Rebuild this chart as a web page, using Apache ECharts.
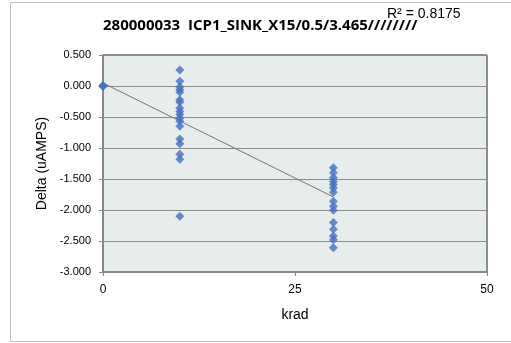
<!DOCTYPE html>
<html>
<head>
<meta charset="utf-8">
<script src="https://cdn.jsdelivr.net/npm/echarts@6/dist/echarts.min.js"></script>
<style>html,body{margin:0;padding:0;background:#fff}#c{width:511px;height:343px}</style>
</head>
<body>
<div id="c"></div>
<script>
var titleText = '280000033  ICP1_SINK_X15/0.5/3.465////////';
var r2Text = 'R\u00B2 = 0.8175';
var xAxisName = 'krad';
var yAxisName = 'Delta (uAMPS)';
var krad0 = [0, 0, 0, 0, 0];
var delta0 = [0, 0, 0, 0, 0];
var krad10 = [10, 10, 10, 10, 10, 10, 10, 10, 10, 10, 10, 10, 10, 10, 10, 10, 10, 10];
var delta10 = [0.258, 0.075, -0.016, -0.06, -0.10, -0.22, -0.26, -0.355, -0.41, -0.46, -0.52, -0.57, -0.65, -0.855, -0.93, -1.10, -1.18, -2.10];
var krad30 = [30, 30, 30, 30, 30, 30, 30, 30, 30, 30, 30, 30, 30, 30, 30];
var delta30 = [-1.32, -1.40, -1.48, -1.54, -1.59, -1.645, -1.715, -1.86, -1.94, -2.005, -2.20, -2.31, -2.42, -2.48, -2.61];
var trendX = [0, 30];
var trendY = [0.048, -1.79];

function pairs(xs, ys) { return xs.map(function (x, i) { return [x, ys[i]]; }); }
var points = pairs(krad0, delta0).concat(pairs(krad10, delta10), pairs(krad30, delta30));
var trend = pairs(trendX, trendY);

var font = 'Liberation Sans';
var chart = echarts.init(document.getElementById('c'));
chart.setOption({
  animation: false,
  backgroundColor: '#fff',
  graphic: [
    { type: 'rect', shape: { x: 10.5, y: 2.5, width: 520, height: 339 }, style: { fill: 'none', stroke: '#c0c0c0', lineWidth: 1 }, z: -10 },
    { type: 'text', left: 103, top: 18, style: { text: titleText, font: 'bold 15px "Open Sans"', fill: '#000' } },
    { type: 'text', left: 387, top: 7, style: { text: r2Text, font: '14px ' + font, fill: '#000' } }
  ],
  grid: { left: 103, right: 24, top: 55, bottom: 71, show: true, backgroundColor: '#E7ECEC', borderColor: '#222', borderWidth: 1 },
  xAxis: {
    type: 'value', min: 0, max: 50, interval: 25,
    name: xAxisName, nameLocation: 'middle', nameGap: 36,
    nameTextStyle: { fontFamily: font, fontSize: 14, color: '#000' },
    axisLine: { show: true, onZero: false, lineStyle: { color: '#888', width: 2 } },
    axisTick: { show: true, length: 4, lineStyle: { color: '#888' } },
    axisLabel: { fontFamily: font, fontSize: 12, color: '#000', margin: 12 },
    splitLine: { show: false }
  },
  yAxis: {
    type: 'value', min: -3, max: 0.5, interval: 0.5,
    name: yAxisName, nameLocation: 'middle', nameGap: 54, nameRotate: 90,
    nameTextStyle: { fontFamily: font, fontSize: 14, color: '#000' },
    axisLine: { show: true, onZero: false, lineStyle: { color: '#888', width: 2 } },
    axisTick: { show: true, length: 4, lineStyle: { color: '#888' } },
    axisLabel: { fontFamily: font, fontSize: 11, color: '#000', margin: 12, formatter: function (v) { return v.toFixed(3); } },
    splitLine: { show: true, lineStyle: { color: '#8c8c8c', width: 1 } }
  },
  series: [
    { type: 'line', data: trend, symbol: 'none', lineStyle: { color: '#777', width: 1 }, z: 1 },
    { type: 'scatter', data: points, symbol: 'diamond', symbolSize: 9, itemStyle: { color: '#4472C4' }, z: 2 }
  ]
});
</script>
</body>
</html>
